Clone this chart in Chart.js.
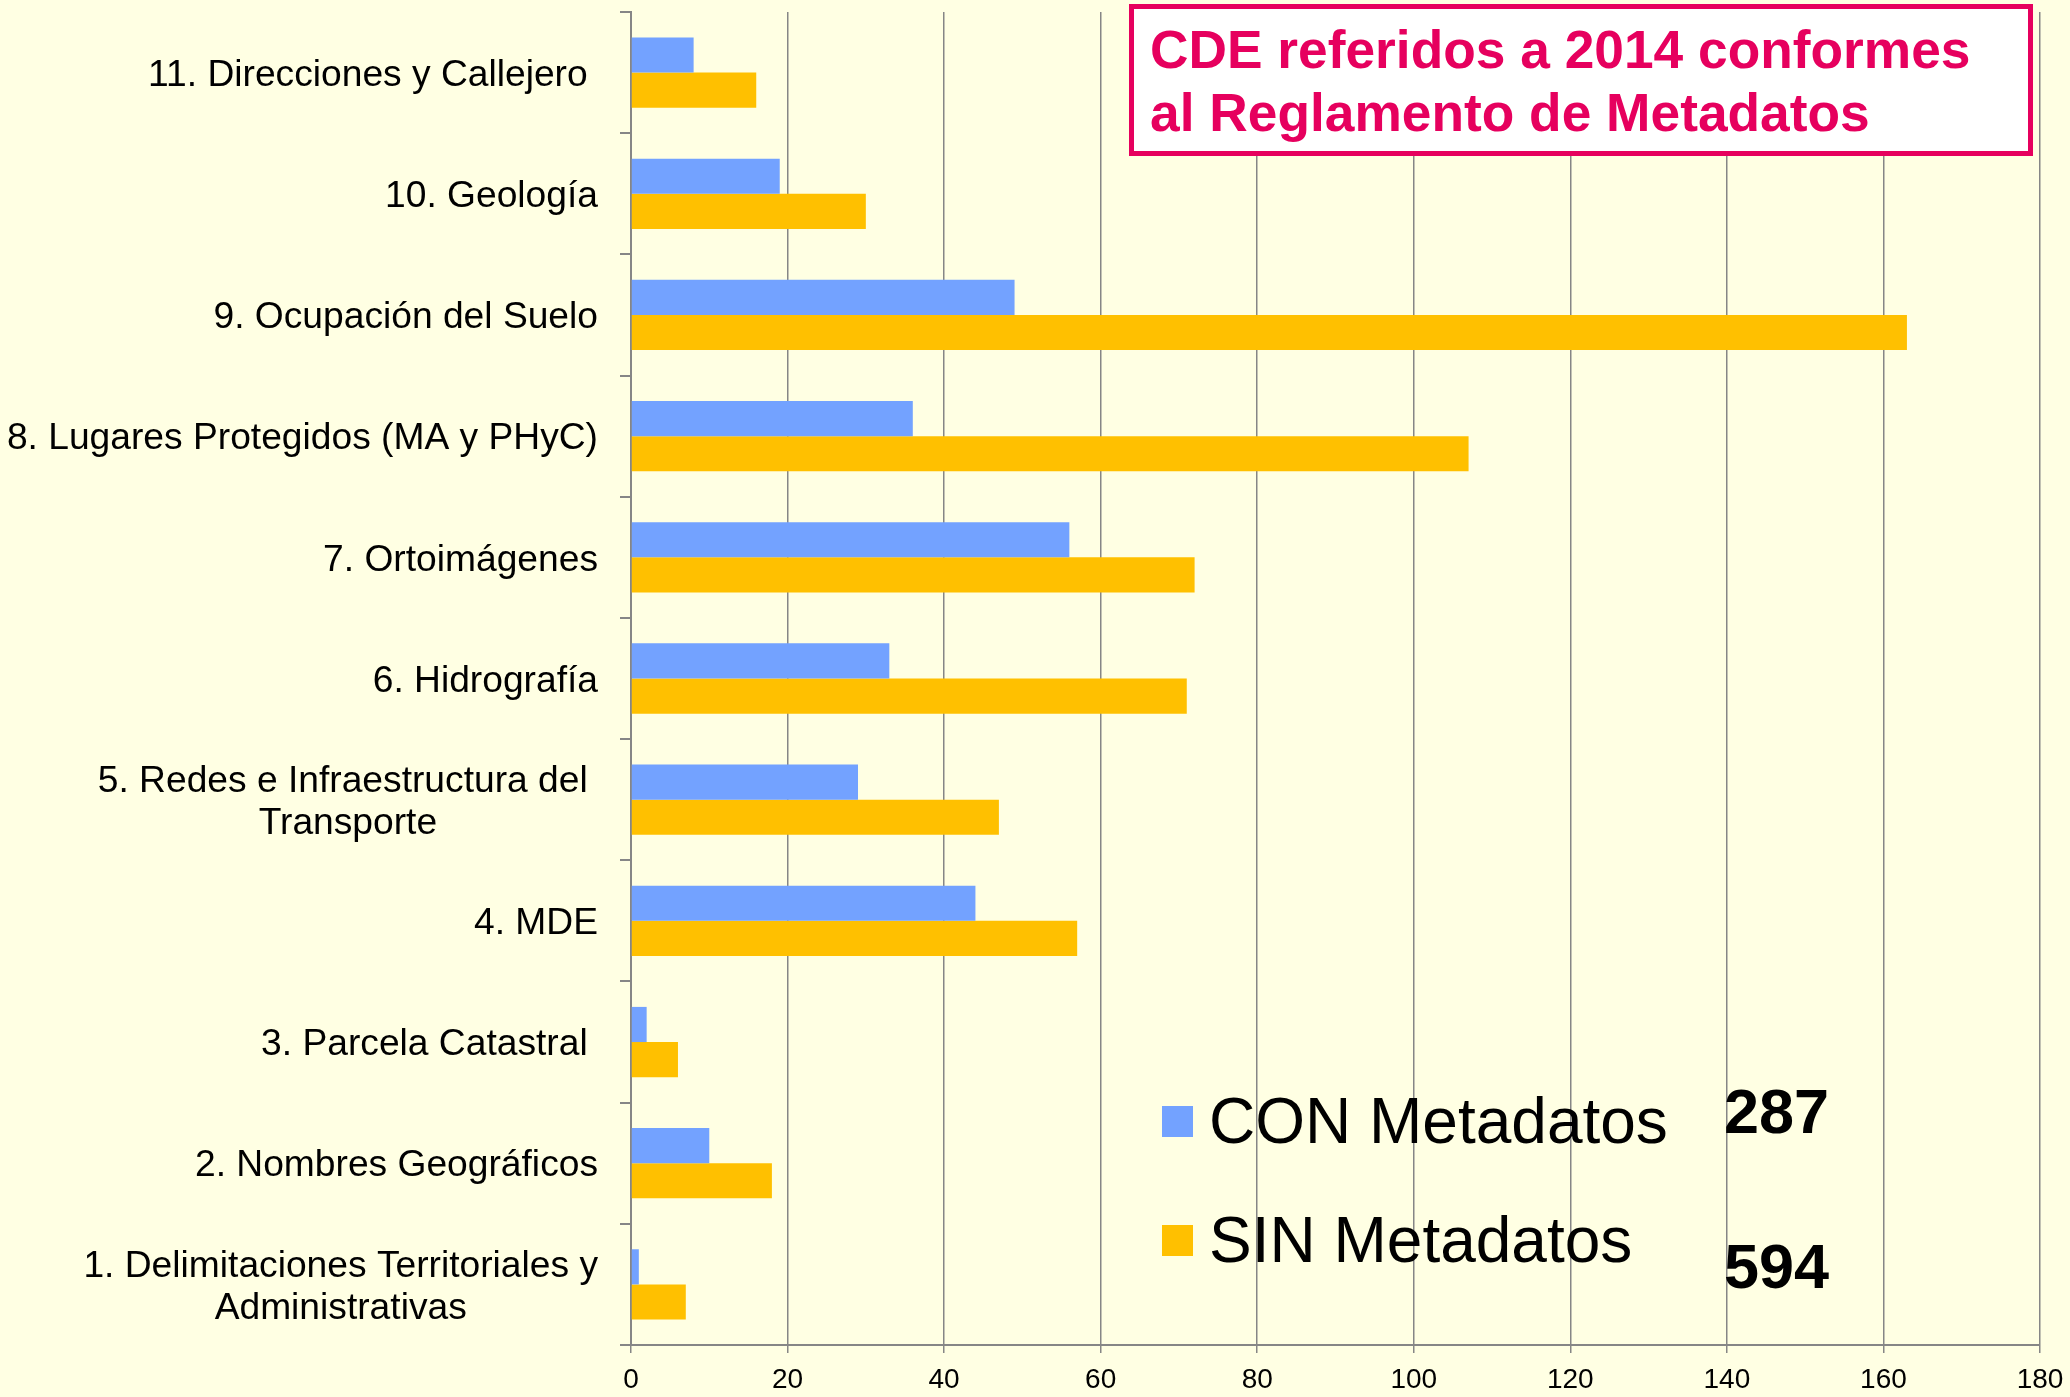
<!DOCTYPE html>
<html>
<head>
<meta charset="utf-8">
<script src="https://cdn.jsdelivr.net/npm/chart.js@4.4.0/dist/chart.umd.min.js"></script>
<style>
  body { margin: 0; background: #FFFFE3; }
  #wrap { position: relative; width: 2070px; height: 1397px; }
  #chart { position: absolute; left: 0; top: 0; }
  .titlebox {
    position: absolute; left: 1129px; top: 4px; width: 904px; height: 152px;
    border: 5px solid #E6005E; background: #fff; box-sizing: border-box;
    font-family: "Liberation Sans", Arial, sans-serif; font-weight: bold;
    font-size: 53.3px; line-height: 63px; color: #E6005E;
    padding: 9px 0 0 16px;
  }
</style>
</head>
<body>
<div id="wrap">
  <canvas id="chart" width="2070" height="1397"></canvas>
  <div class="titlebox">CDE referidos a 2014 conformes<br>al Reglamento de Metadatos</div>
</div>
<script>
// categories, bottom to top
const categories = [
  ["1. Delimitaciones Territoriales y", "Administrativas"],
  "2. Nombres Geográficos",
  "3. Parcela Catastral ",
  "4. MDE",
  ["5. Redes e Infraestructura del ", "Transporte"],
  "6. Hidrografía",
  "7. Ortoimágenes",
  "8. Lugares Protegidos (MA y PHyC)",
  "9. Ocupación del Suelo",
  "10. Geología",
  "11. Direcciones y Callejero ",
];
const conMetadatos = [1, 10, 2, 44, 29, 33, 56, 36, 49, 19, 8];
const sinMetadatos = [7, 18, 6, 57, 47, 71, 72, 107, 163, 30, 16];
const seriesNames = ["CON Metadatos", "SIN Metadatos"];
const xTicks = [0, 20, 40, 60, 80, 100, 120, 140, 160, 180];

const FONT = '"Liberation Sans", Arial, sans-serif';

//category labels, block right aligned, lines centered
const yLabels = {
  id: "yLabels",
  afterDraw(chart) {
    const ctx = chart.ctx;
    const y = chart.scales.y;
    ctx.save();
    ctx.font = "37.2px " + FONT;
    ctx.fillStyle = "#000";
    ctx.textAlign = "center";
    ctx.textBaseline = "middle";
    chart.data.labels.forEach((lbl, i) => {
      const lines = Array.isArray(lbl) ? lbl : [lbl];
      const w = Math.max(...lines.map((l) => ctx.measureText(l).width));
      const cx = 598 - w / 2;
      const cy = y.getPixelForValue(i) + 3;
      const lh = 42;
      lines.forEach((l, k) => {
        ctx.fillText(l, cx, cy + (k - (lines.length - 1) / 2) * lh);
      });
    });
    ctx.restore();
  },
};

//legend with totals inside the plot
const legendTotals = {
  id: "legendTotals",
  afterDraw(chart) {
    const ctx = chart.ctx;
    const rows = [
      { sq: 1106, text: 1143, total: 1133 },
      { sq: 1225, text: 1262, total: 1288 },
    ];
    ctx.save();
    ctx.textBaseline = "alphabetic";
    chart.data.datasets.forEach((ds, i) => {
      const r = rows[i];
      const sum = ds.data.reduce((a, b) => a + b, 0);
      ctx.fillStyle = ds.backgroundColor;
      ctx.fillRect(1162, r.sq, 31, 31);
      ctx.fillStyle = "#000";
      ctx.font = "64px " + FONT;
      ctx.textAlign = "left";
      ctx.fillText(ds.label, 1209, r.text);
      ctx.font = "bold 63px " + FONT;
      ctx.fillText(String(sum), 1724, r.total);
    });
    ctx.restore();
  },
};

function generateChart() {
  const ctx = document.getElementById("chart");
  return new Chart(ctx, {
    type: "bar",
    data: {
      labels: categories,
      datasets: [
        {
          label: seriesNames[0],
          data: conMetadatos,
          backgroundColor: "#73A2FF",
          borderWidth: 0,
          categoryPercentage: 0.58,
          barPercentage: 1,
        },
        {
          label: seriesNames[1],
          data: sinMetadatos,
          backgroundColor: "#FFC000",
          borderWidth: 0,
          categoryPercentage: 0.58,
          barPercentage: 1,
        },
      ],
    },
    options: {
      indexAxis: "y",
      responsive: false,
      animation: false,
      layout: { padding: { left: 0, top: 12, right: 30, bottom: 0 } },
      plugins: { legend: { display: false }, tooltip: { enabled: false } },
      scales: {
        x: {
          min: 0,
          max: 180,
          afterBuildTicks: (s) => { s.ticks = xTicks.map((v) => ({ value: v })); },
          afterFit: (s) => { s.height = 52; s.paddingLeft = 0; s.paddingRight = 0; },
          border: { color: "#868686", width: 2 },
          grid: { color: "#868686", lineWidth: 1.5, tickLength: 8 },
          ticks: { color: "#000", padding: 10, font: { family: FONT, size: 28 } },
        },
        y: {
          reverse: true,
          afterFit: (s) => { s.width = 631; },
          border: { color: "#868686", width: 2 },
          grid: { offset: true, drawOnChartArea: false, color: "#868686", lineWidth: 2, tickLength: 11 },
          ticks: { display: false },
        },
      },
    },
    plugins: [yLabels, legendTotals],
  });
}

window.onload = function () {
  generateChart();
};
</script>
</body>
</html>
